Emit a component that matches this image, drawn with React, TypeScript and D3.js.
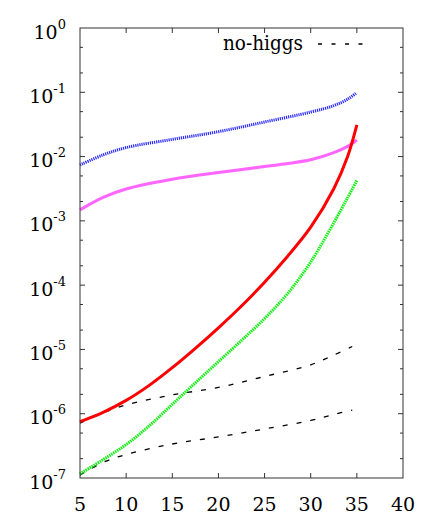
import React from 'react';
import * as d3 from 'd3';

// values (log y axis)
const blueX = [5, 7.5, 10, 15, 20, 25, 30, 32.5, 34, 35];
const blueY = [7.4e-3, 1.06e-2, 1.38e-2, 1.85e-2, 2.44e-2, 3.45e-2, 4.93e-2, 6.2e-2, 7.8e-2, 9.9e-2];

const pinkX = [5, 7.5, 10, 15, 20, 25, 27.5, 30, 32.5, 34, 35];
const pinkY = [1.48e-3, 2.32e-3, 3.13e-3, 4.43e-3, 5.65e-3, 7.0e-3, 7.8e-3, 8.9e-3, 1.15e-2, 1.44e-2, 1.81e-2];

const redX = [5, 7.5, 10, 12.5, 15, 17.5, 20, 22.5, 25, 27.5, 30, 32.5, 34, 35];
const redY = [7.52e-7, 1.05e-6, 1.61e-6, 2.76e-6, 5.2e-6, 1.04e-5, 2.17e-5, 4.74e-5, 1.11e-4, 2.82e-4, 7.96e-4, 3.16e-3, 1.0e-2, 3.1e-2];

const greenX = [5, 7.5, 10, 12.5, 15, 17.5, 20, 22.5, 25, 27.5, 30, 32.5, 34, 35];
const greenY = [1.16e-7, 1.93e-7, 3.31e-7, 6.46e-7, 1.4e-6, 3.02e-6, 6.46e-6, 1.38e-5, 3.02e-5, 7.41e-5, 2.29e-4, 9.33e-4, 2.29e-3, 4.27e-3];

const noHiggsX = [5, 7.5, 10, 15, 20, 25, 30, 32.5, 34.5];
const noHiggsUpper = [7.1e-7, 1.03e-6, 1.37e-6, 1.96e-6, 2.56e-6, 3.79e-6, 5.77e-6, 8.17e-6, 1.11e-5];
const noHiggsLower = [1.11e-7, 1.75e-7, 2.32e-7, 3.38e-7, 4.35e-7, 5.79e-7, 7.85e-7, 9.73e-7, 1.14e-6];

const xTicks = [5, 10, 15, 20, 25, 30, 35, 40];
const yExponents = [0, -1, -2, -3, -4, -5, -6, -7];

const W = 443;
const H = 526;
const LEFT = 80;
const RIGHT = 403;
const TOP = 28;
const BOTTOM = 478;

const x = d3.scaleLinear().domain([5, 40]).range([LEFT, RIGHT]);
const y = d3.scaleLog().domain([1e-7, 1]).range([BOTTOM, TOP]);

const line = d3.line<[number, number]>()
    .x(d => x(d[0]))
    .y(d => y(d[1]))
    .curve(d3.curveCatmullRom.alpha(0.5));

function path(xs: number[], ys: number[]) {
    return line(xs.map((v, i) => [v, ys[i]] as [number, number])) || '';
}

const minorTicks: number[] = [];
for (let e = -7; e < 0; e++) {
    minorTicks.push(2 * Math.pow(10, e), 5 * Math.pow(10, e));
}

const FONT = "'DejaVu Serif', serif";

export default function App() {
    return (
        <svg width={W} height={H} style={{ position: 'absolute', left: 0, top: 0, background: '#fff', fontFamily: FONT }}>
            {/* ticks */}
            <g stroke="#333" strokeWidth={1}>
                {xTicks.slice(1, -1).map(t => (
                    <g key={'xt' + t}>
                        <line x1={x(t)} x2={x(t)} y1={BOTTOM} y2={BOTTOM - 5} />
                        <line x1={x(t)} x2={x(t)} y1={TOP} y2={TOP + 5} />
                    </g>
                ))}
                {yExponents.slice(1, -1).map(e => (
                    <g key={'yt' + e}>
                        <line x1={LEFT} x2={LEFT + 5} y1={y(Math.pow(10, e))} y2={y(Math.pow(10, e))} />
                        <line x1={RIGHT} x2={RIGHT - 5} y1={y(Math.pow(10, e))} y2={y(Math.pow(10, e))} />
                    </g>
                ))}
                {minorTicks.map(v => (
                    <g key={'ym' + v}>
                        <line x1={LEFT} x2={LEFT + 3} y1={y(v)} y2={y(v)} />
                        <line x1={RIGHT} x2={RIGHT - 3} y1={y(v)} y2={y(v)} />
                    </g>
                ))}
            </g>

            {/* curves */}
            <path d={path(noHiggsX, noHiggsUpper)} fill="none" stroke="#000" strokeWidth={1.3} strokeDasharray="5,9" />
            <path d={path(noHiggsX, noHiggsLower)} fill="none" stroke="#000" strokeWidth={1.3} strokeDasharray="5,9" />
            <path d={path(blueX, blueY)} fill="none" stroke="#2a2aff" strokeWidth={3} strokeDasharray="1.2,0.9" />
            <path d={path(pinkX, pinkY)} fill="none" stroke="#ff66ff" strokeWidth={3} />
            <path d={path(greenX, greenY)} fill="none" stroke="#11ee11" strokeWidth={3} strokeDasharray="1.5,0.8" />
            <path d={path(redX, redY)} fill="none" stroke="#ff0000" strokeWidth={3} />

            {/* frame */}
            <rect x={LEFT} y={TOP} width={RIGHT - LEFT} height={BOTTOM - TOP} fill="none" stroke="#333" strokeWidth={1} />

            {/* y labels */}
            {yExponents.map(e => (
                <text key={'yl' + e} x={66} y={y(Math.pow(10, e)) + 10.5} textAnchor="end" fontSize={19} fill="#000"
                    style={{ fontFamily: FONT }}>
                    10<tspan dy={-10} fontSize={13}>{e}</tspan>
                </text>
            ))}

            {/* x labels */}
            {xTicks.map(t => (
                <text key={'xl' + t} x={x(t)} y={511} textAnchor="middle" fontSize={19} fill="#000"
                    style={{ fontFamily: FONT }}>{t}</text>
            ))}

            {/* legend */}
            <text x={223} y={50} fontSize={21} fill="#000" textLength={80} lengthAdjust="spacingAndGlyphs"
                style={{ fontFamily: FONT }}>no-higgs</text>
            <line x1={318} x2={368} y1={44} y2={44} stroke="#000" strokeWidth={1.3} strokeDasharray="4,9.5" />
        </svg>
    );
}
